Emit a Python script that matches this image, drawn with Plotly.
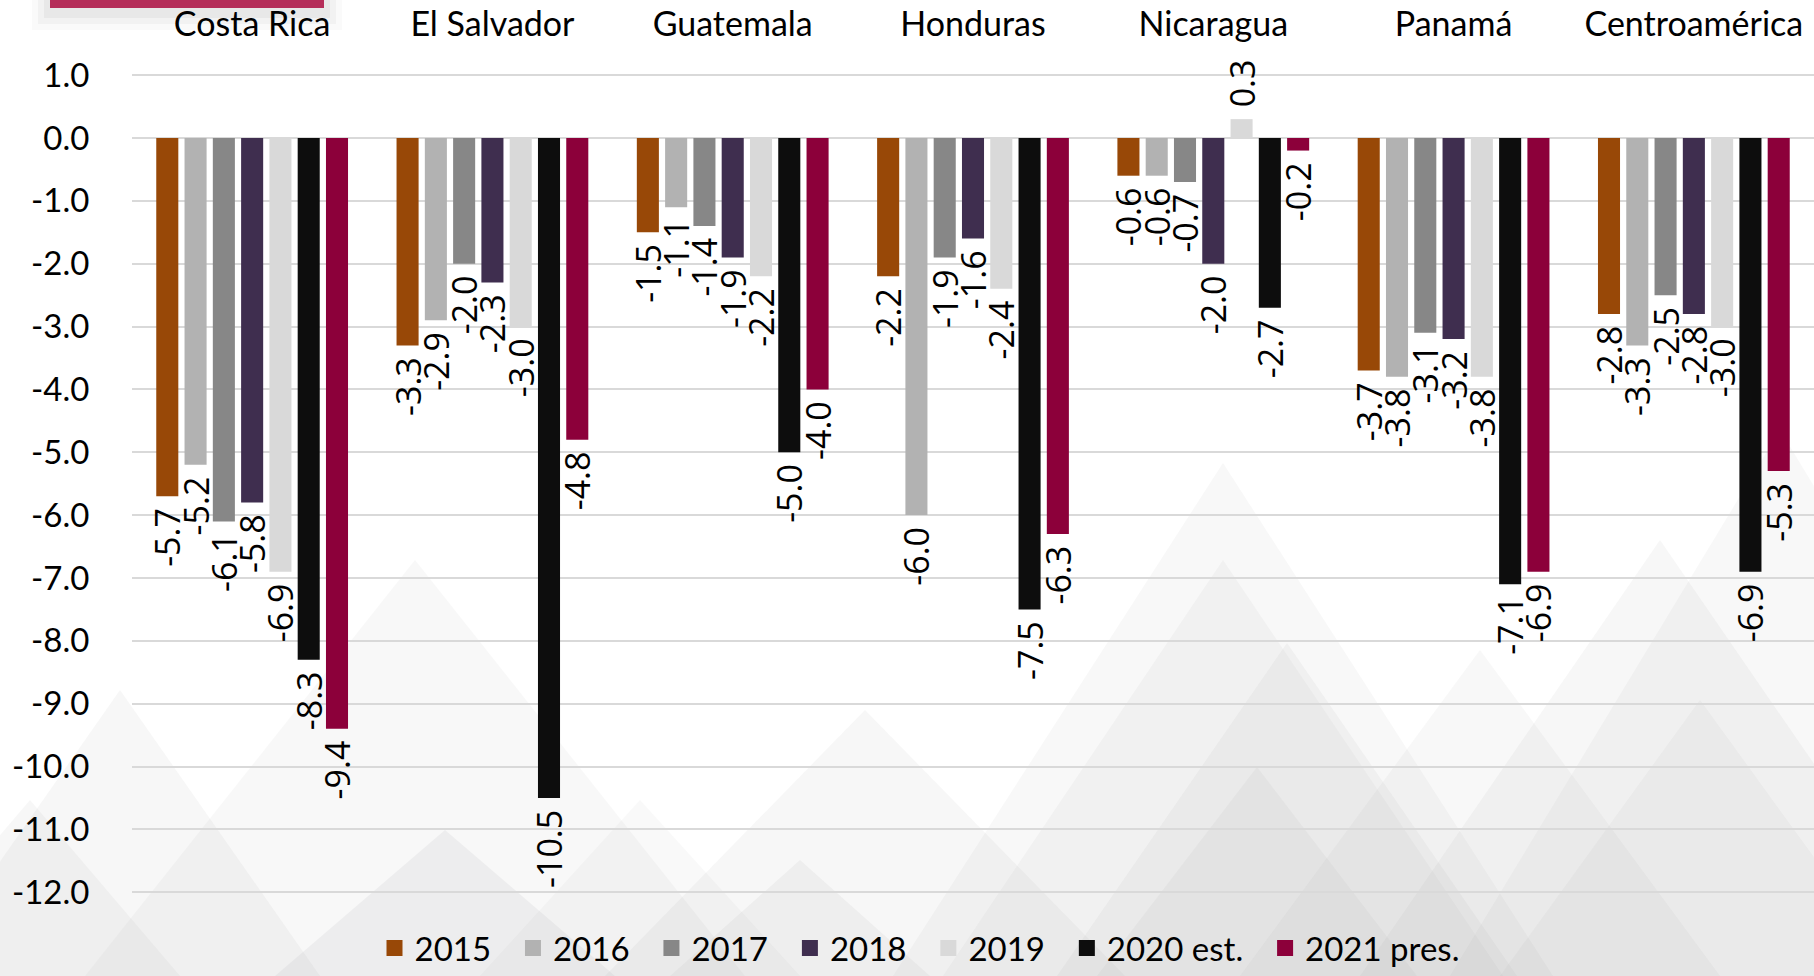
import plotly.graph_objects as go

countries = ["Costa Rica", "El Salvador", "Guatemala", "Honduras", "Nicaragua", "Panamá", "Centroamérica"]
series_names = ["2015", "2016", "2017", "2018", "2019", "2020 est.", "2021 pres."]
v2015 = [-5.7, -3.3, -1.5, -2.2, -0.6, -3.7, -2.8]
v2016 = [-5.2, -2.9, -1.1, -6.0, -0.6, -3.8, -3.3]
v2017 = [-6.1, -2.0, -1.4, -1.9, -0.7, -3.1, -2.5]
v2018 = [-5.8, -2.3, -1.9, -1.6, -2.0, -3.2, -2.8]
v2019 = [-6.9, -3.0, -2.2, -2.4, 0.3, -3.8, -3.0]
v2020 = [-8.3, -10.5, -5.0, -7.5, -2.7, -7.1, -6.9]
v2021 = [-9.4, -4.8, -4.0, -6.3, -0.2, -6.9, -5.3]
colors = ["#984807", "#B2B2B2", "#878787", "#3F2E4F", "#D9D9D9", "#0D0D0D", "#8C003A"]
tick_vals = [1, 0, -1, -2, -3, -4, -5, -6, -7, -8, -9, -10, -11, -12]
tick_text = ["1.0", "0.0", "-1.0", "-2.0", "-3.0", "-4.0", "-5.0", "-6.0", "-7.0", "-8.0", "-9.0", "-10.0", "-11.0", "-12.0"]

all_series = [v2015, v2016, v2017, v2018, v2019, v2020, v2021]

W, H = 1814, 976
ML, MR, MT, MB = 132, 0, 44, 0
PW, PH = W - ML - MR, H - MT - MB
PX_PER_UNIT = 62.85
ZERO_PX = 138
y_top = (ZERO_PX - MT) / PX_PER_UNIT
y_bot = -(H - MB - ZERO_PX) / PX_PER_UNIT

NBSP = "\u00a0"

def label(v):
    s = f"{v:.1f}"
    return (NBSP + s) if v >= 0 else (s + NBSP)

fig = go.Figure()
for name, vals, col in zip(series_names, all_series, colors):
    fig.add_trace(go.Bar(
        x=countries, y=vals, name=name, showlegend=False,
        marker=dict(color=col, line=dict(width=0)),
        text=[label(v) for v in vals], textposition="outside", textangle=-90,
        textfont=dict(family="Open Sans", size=34, color="#000000"),
        constraintext="none", cliponaxis=False,
    ))
for name, col in zip(series_names, colors):
    fig.add_trace(go.Scatter(
        x=[countries[0]], y=[None], mode="markers", name=name + NBSP * 2,
        marker=dict(symbol="square", size=18, color=col), hoverinfo="skip",
    ))

def px2paper(x, y):
    return (x - ML) / PW, (H - MB - y) / PH

shapes = []
tris = [
    (415, 560, 330, 0.07), (445, 830, 170, 0.10), (120, 690, 200, 0.08),
    (865, 710, 260, 0.08), (800, 860, 130, 0.09), (640, 800, 160, 0.06),
    (1223, 463, 330, 0.07), (1223, 560, 280, 0.07), (1287, 643, 230, 0.08),
    (1257, 767, 160, 0.08), (1660, 540, 300, 0.08), (1780, 430, 330, 0.07),
    (1480, 650, 240, 0.07), (1700, 700, 200, 0.07), (30, 800, 150, 0.08),
]
for ax, ay, hw, a in tris:
    x0, y0 = px2paper(ax - hw, H)
    x1, y1 = px2paper(ax, ay)
    x2, y2 = px2paper(ax + hw, H)
    shapes.append(dict(type="path", xref="paper", yref="paper", layer="below",
                       path=f"M {x0},{y0} L {x1},{y1} L {x2},{y2} Z",
                       fillcolor=f"rgba(150,150,158,{a})", line=dict(width=0)))
for i, a in enumerate([0.02, 0.03, 0.04]):
    d = 18 - i * 6
    x0, y0 = px2paper(50 - d, 8 + d + 4)
    x1, y1 = px2paper(324 + d, -2)
    shapes.append(dict(type="rect", xref="paper", yref="paper", layer="below",
                       x0=x0, y0=y0, x1=x1, y1=y1, fillcolor=f"rgba(0,0,0,{a})", line=dict(width=0)))
x0, y0 = px2paper(50, 8)
x1, y1 = px2paper(324, -2)
shapes.append(dict(type="rect", xref="paper", yref="paper", layer="above",
                   x0=x0, y0=y0, x1=x1, y1=y1, fillcolor="#B52D59", line=dict(width=0)))

lx, _ = px2paper(928, 959)
fig.update_layout(
    width=W, height=H,
    margin=dict(l=ML, r=MR, t=MT, b=MB, pad=0),
    paper_bgcolor="#FFFFFF", plot_bgcolor="rgba(0,0,0,0)",
    barmode="group", bargap=0.176, bargroupgap=0.22,
    font=dict(family="Lato", color="#000000"),
    shapes=shapes,
    showlegend=True,
    legend=dict(orientation="h", x=lx, y=0, xanchor="center", yanchor="bottom",
                font=dict(family="Lato", size=33, color="#000000"),
                bgcolor="rgba(0,0,0,0)", itemsizing="trace", traceorder="normal"),
    xaxis=dict(side="top", showgrid=False, zeroline=False, showline=False, ticks="",
               tickfont=dict(family="Lato", size=34, color="#000000")),
    yaxis=dict(range=[y_bot, y_top], tickvals=tick_vals, ticktext=tick_text,
               showgrid=True, gridcolor="#D9D9D9", gridwidth=2, zeroline=False, showline=False,
               ticks="outside", ticklen=35, tickcolor="rgba(0,0,0,0)",
               tickfont=dict(family="Lato", size=33, color="#000000")),
)
fig.write_html("out.html", config={"displayModeBar": False},
               post_script="document.body.style.margin='0';document.body.style.overflow='hidden';")
